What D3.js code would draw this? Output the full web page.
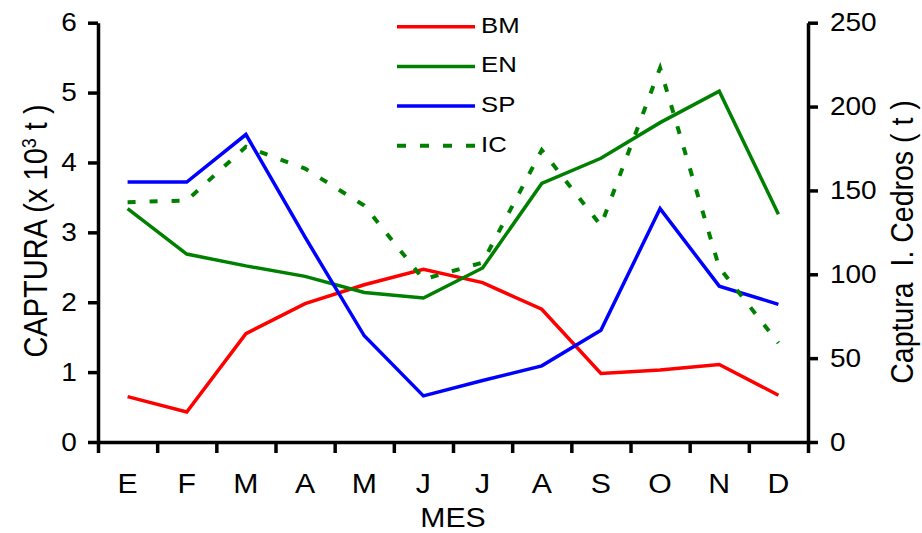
<!DOCTYPE html>
<html>
<head>
<meta charset="utf-8">
<script src="https://cdn.jsdelivr.net/npm/d3@7"></script>
<style>
  body { margin: 0; background: #fff; }
  svg { display: block; font-family: "Liberation Sans", Arial, sans-serif; }
  .axis path, .axis line { stroke: #000; stroke-width: 3.5; }
  .axis text { fill: #000; }
</style>
</head>
<body>
<svg width="922" height="533"></svg>
<script>
// month labels (E..D) and monthly catches
let months = ["E", "F", "M", "A", "M", "J", "J", "A", "S", "O", "N", "D"];
let BM = [0.65, 0.43, 1.55, 1.98, 2.25, 2.47, 2.28, 1.90, 0.98, 1.03, 1.11, 0.67];
let EN = [3.34, 2.69, 2.52, 2.37, 2.14, 2.06, 2.49, 3.70, 4.06, 4.57, 5.02, 3.26];
let SP = [3.72, 3.72, 4.40, 2.93, 1.52, 0.66, 0.88, 1.09, 1.60, 3.34, 2.23, 1.97];
let IC = [143, 144, 176, 163, 141, 97, 107, 174, 129, 223, 104, 59];
let leftTicks = [0, 1, 2, 3, 4, 5, 6];
let rightTicks = [0, 50, 100, 150, 200, 250];

let svg = d3.select("svg");
let sx = 1.12; // the reference text is a bit wider than it is tall

let x = d3.scaleBand().domain(d3.range(12)).range([98, 808]);
let xEdge = d3.scaleLinear().domain([0, 12]).range([98, 808]);
let yL = d3.scaleLinear().domain([0, 6]).range([442, 22.7]);
let yR = d3.scaleLinear().domain([0, 250]).range([442, 22.7]);

function cx(i) { return x(i) + x.bandwidth() / 2; }

// x axis: ticks on the month boundaries, labels in the middle
svg.append("g").attr("class", "axis")
    .attr("transform", "translate(0,442)")
    .call(d3.axisBottom(xEdge).tickValues(d3.range(13)).tickFormat("").tickSize(11).tickSizeOuter(0));

let xLab = svg.append("g").attr("class", "axis")
    .attr("transform", "translate(0,442)")
    .call(d3.axisBottom(x).tickSize(0).tickPadding(32).tickFormat(function (i) { return months[i]; }));
xLab.select(".domain").remove();
xLab.selectAll("text").style("font-size", "27px").attr("transform", "scale(" + sx + ",1)");

// left axis
let gl = svg.append("g").attr("class", "axis")
    .attr("transform", "translate(98,0)")
    .call(d3.axisLeft(yL).tickValues(leftTicks).tickFormat(d3.format("d")).tickSize(10).tickSizeOuter(0).tickPadding(8.8));
gl.selectAll("text").style("font-size", "25px").attr("transform", "scale(" + sx + ",1)");

// right axis
let gr = svg.append("g").attr("class", "axis")
    .attr("transform", "translate(808,0)")
    .call(d3.axisRight(yR).tickValues(rightTicks).tickFormat(d3.format("d")).tickSize(10).tickSizeOuter(0).tickPadding(9.6));
gr.selectAll("text").style("font-size", "25px").attr("transform", "scale(" + sx + ",1)");

// series lines
let lineL = d3.line().x(function (d, i) { return cx(i); }).y(function (d) { return yL(d); });
let lineR = d3.line().x(function (d, i) { return cx(i); }).y(function (d) { return yR(d); });

let series = [
    { name: "BM", values: BM, color: "#ff0000", line: lineL, dash: null, width: 3.5 },
    { name: "EN", values: EN, color: "#008000", line: lineL, dash: null, width: 3.5 },
    { name: "SP", values: SP, color: "#0000ff", line: lineL, dash: null, width: 3.5 },
    { name: "IC", values: IC, color: "#008000", line: lineR, dash: "8,14", width: 4 }
];

svg.selectAll(".serie")
    .data(series)
    .enter().append("path")
    .attr("class", "serie")
    .attr("fill", "none")
    .attr("stroke", function (s) { return s.color; })
    .attr("stroke-width", function (s) { return s.width; })
    .attr("stroke-dasharray", function (s) { return s.dash; })
    .attr("stroke-linejoin", "miter")
    .attr("d", function (s) { return s.line(s.values); });

// legend
let legend = svg.selectAll(".legend")
    .data(series)
    .enter().append("g")
    .attr("class", "legend")
    .attr("transform", function (s, i) { return "translate(397," + (26.7 + i * 39.7) + ")"; });

legend.append("line")
    .attr("x1", 0).attr("x2", 78)
    .attr("stroke", function (s) { return s.color; })
    .attr("stroke-width", function (s) { return s.width; })
    .attr("stroke-dasharray", function (s) { return s.dash ? "9,14" : null; });

legend.append("text")
    .attr("transform", "translate(84,5.8) scale(" + sx + ",1)")
    .style("font-size", "23px")
    .text(function (s) { return s.name; });

// axis titles
let tl = svg.append("text")
    .attr("transform", "translate(47,231) scale(" + sx + ",1) rotate(-90)")
    .attr("text-anchor", "middle")
    .style("font-size", "29px");
tl.append("tspan").text("CAPTURA (x 10");
tl.append("tspan").attr("baseline-shift", "super").style("font-size", "18px").text("3");
tl.append("tspan").text(" t )");

svg.append("text")
    .attr("transform", "translate(913,242) scale(" + sx + ",1) rotate(-90)")
    .attr("text-anchor", "middle")
    .style("font-size", "28.5px")
    .style("white-space", "pre")
    .text("Captura  I. Cedros ( t )");

svg.append("text")
    .attr("transform", "translate(453,527) scale(" + sx + ",1)")
    .attr("text-anchor", "middle")
    .style("font-size", "27px")
    .text("MES");
</script>
</body>
</html>
